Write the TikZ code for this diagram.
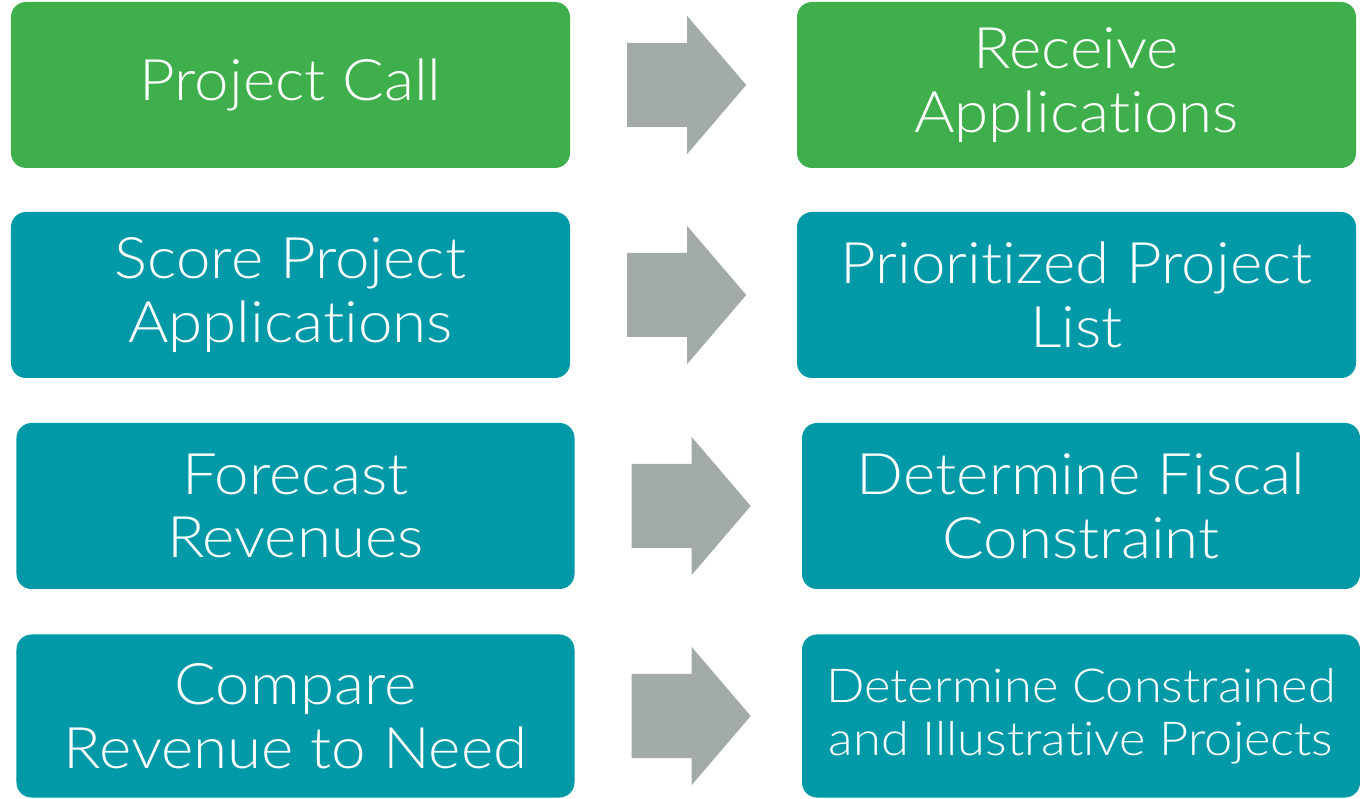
\documentclass[tikz,border=0pt]{standalone}
\usepackage{fontspec}
\setmainfont{Lato}[UprightFont={* Light}, FakeStretch=1.08, RawFeature={-liga}]
\usetikzlibrary{calc}
\definecolor{boxgreen}{HTML}{3FAF4C}
\definecolor{boxteal}{HTML}{0099A8}
\definecolor{arrowgray}{HTML}{A2ABA5}
\tikzset{
  x=1bp,y=1bp,
  flowbox/.style={rounded corners=15bp, inner sep=0pt, minimum width=559bp, minimum height=166bp,
    text=white, align=center, font=\fontsize{57.5}{64}\selectfont},
  greenbox/.style={flowbox, fill=boxgreen},
  tealbox/.style={flowbox, fill=boxteal},
}
\newcommand\flowarrow[1]{%
  \fill[arrowgray] ($(#1.east)+(57,42)$) -- ++(60,0) -- ++(0,27) -- ++(59,-69)
    -- ++(-59,-69) -- ++(0,27) -- ++(-60,0) -- cycle;}
\begin{document}
\begin{tikzpicture}
\useasboundingbox (0,0) rectangle (1360,798);
\node[greenbox] (call) at (290.5,713) {Project Call};
\node[greenbox] (receive) at (1076.5,713) {Receive\\Applications};
\node[tealbox] (score) at (290.5,503) {Score Project\\Applications};
\node[tealbox] (prior) at (1076.5,503) {Prioritized Project\\List};
\node[tealbox, minimum width=558bp] (forecast) at (295.5,292) {Forecast\\Revenues};
\node[tealbox, minimum width=558bp] (fiscal) at (1081,292) {Determine Fiscal\\Constraint};
\node[tealbox, minimum width=558bp, minimum height=163bp] (compare) at (295.5,82) {Compare\\Revenue to Need};
\node[tealbox, minimum width=558bp, minimum height=163bp, font=\fontsize{47}{53}\selectfont] (constr) at (1081,82) {Determine Constrained\\and Illustrative Projects};
\flowarrow{call}
\flowarrow{score}
\flowarrow{forecast}
\flowarrow{compare}
\end{tikzpicture}
\end{document}
